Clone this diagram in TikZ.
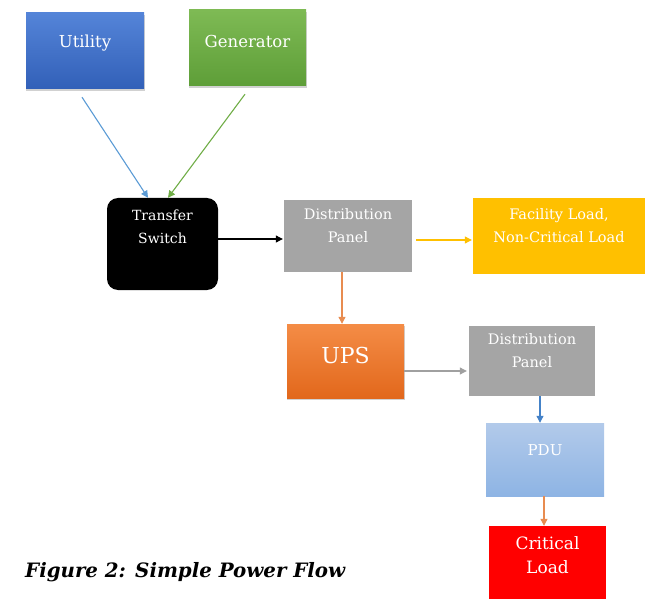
\documentclass[tikz,border=0pt]{standalone}
\usepackage{fontspec}
\setmainfont{DejaVu Serif}
\usetikzlibrary{arrows.meta,shadows}
\definecolor{utilT}{RGB}{84,132,216}
\definecolor{utilB}{RGB}{50,96,184}
\definecolor{genT}{RGB}{126,186,84}
\definecolor{genB}{RGB}{94,158,56}
\definecolor{upsT}{RGB}{244,140,70}
\definecolor{upsB}{RGB}{226,104,28}
\definecolor{pduT}{RGB}{178,202,234}
\definecolor{pduB}{RGB}{142,180,228}
\definecolor{dpgray}{RGB}{165,165,165}
\definecolor{facgold}{RGB}{255,192,0}
\definecolor{critred}{RGB}{255,0,0}
\definecolor{arrblue}{RGB}{91,155,213}
\definecolor{arrblue2}{RGB}{68,130,200}
\definecolor{arrgreen}{RGB}{112,173,71}
\definecolor{arrorange}{RGB}{232,140,80}
\definecolor{arrgray}{RGB}{160,160,160}
\begin{document}
\begin{tikzpicture}[x=1pt,y=-1pt,
  box/.style={rectangle, draw=none, inner sep=0pt, anchor=center},
  lbl/.style={text=white, align=center, inner sep=0pt},
  arr/.style={-{Triangle[length=7pt,width=7pt]}, line width=1.1pt},
  shad/.style={drop shadow={shadow xshift=0.8pt,shadow yshift=-2pt,shadow scale=1.01,opacity=0.18,fill=black}}]
\useasboundingbox (0,0) rectangle (663,612);

\node[box, shad, top color=utilT, bottom color=utilB, minimum width=118pt, minimum height=76pt,
  label={[lbl, yshift=8pt, font=\fontsize{16.5}{20}\selectfont]center:Utility}] (util) at (85,51) {};
\node[box, shad, top color=genT, bottom color=genB, minimum width=117pt, minimum height=76pt,
  label={[lbl, yshift=7pt, font=\fontsize{16.5}{20}\selectfont]center:Generator}] (gen) at (247.5,48) {};
\node[box, fill=black, rounded corners=11pt, minimum width=111pt, minimum height=92pt,
  label={[lbl, yshift=17pt, font=\fontsize{14}{23}\selectfont]center:Transfer\\Switch}] (ts) at (162.5,244) {};
\node[box, fill=dpgray, minimum width=128pt, minimum height=72pt,
  label={[lbl, yshift=10pt, font=\fontsize{14.5}{23}\selectfont]center:Distribution\\Panel}] (dp1) at (348,236) {};
\node[box, fill=facgold, minimum width=172pt, minimum height=76pt,
  label={[lbl, yshift=10pt, font=\fontsize{14.5}{23}\selectfont]center:Facility Load,\\Non-Critical Load}] (fac) at (559,236) {};
\node[box, shad, top color=upsT, bottom color=upsB, minimum width=117pt, minimum height=74pt,
  label={[lbl, yshift=6pt, font=\fontsize{22}{26}\selectfont]center:UPS}] (ups) at (345.5,361) {};
\node[box, fill=dpgray, minimum width=126pt, minimum height=70pt,
  label={[lbl, yshift=10pt, font=\fontsize{14.5}{23}\selectfont]center:Distribution\\Panel}] (dp2) at (532,361) {};
\node[box, top color=pduT, bottom color=pduB, minimum width=118pt, minimum height=73pt,
  label={[lbl, yshift=9pt, font=\fontsize{15}{20}\selectfont]center:PDU}] (pdu) at (545,459.5) {};
\node[box, fill=critred, minimum width=117pt, minimum height=73pt,
  label={[lbl, yshift=7pt, font=\fontsize{17}{24}\selectfont]center:Critical\\Load}] (crit) at (547.5,562.5) {};

\node[anchor=west, inner sep=0pt, font=\fontsize{19.8}{23}\selectfont\bfseries\itshape] (cap) at (25,572) {Figure 2: Simple Power Flow};

\draw[arr, arrblue] ([shift={(-3,8)}]util.south) -- ([xshift=-14.5pt]ts.north);
\draw[arr, arrgreen] ([shift={(-2.5,8)}]gen.south) -- ([xshift=5.5pt]ts.north);
\draw[arr, black] ([yshift=5pt]ts.east) -- ([shift={(-1,3)}]dp1.west);
\draw[arr, facgold] ([shift={(4,4)}]dp1.east) -- ([shift={(-1,4)}]fac.west);
\draw[arr, arrorange] ([xshift=-6pt]dp1.south) -- ([xshift=-6pt]dp1.south |- ups.north);
\draw[arr, arrgray] ([yshift=-10pt]ups.east) -- ([shift={(-2,10)}]dp2.west);
\draw[arr, arrblue2] ([xshift=8pt]dp2.south) -- ([xshift=8pt]dp2.south |- pdu.north);
\draw[arr, arrorange] ([xshift=-1pt]pdu.south) -- ([xshift=-1pt]pdu.south |- crit.north);
\end{tikzpicture}
\end{document}
